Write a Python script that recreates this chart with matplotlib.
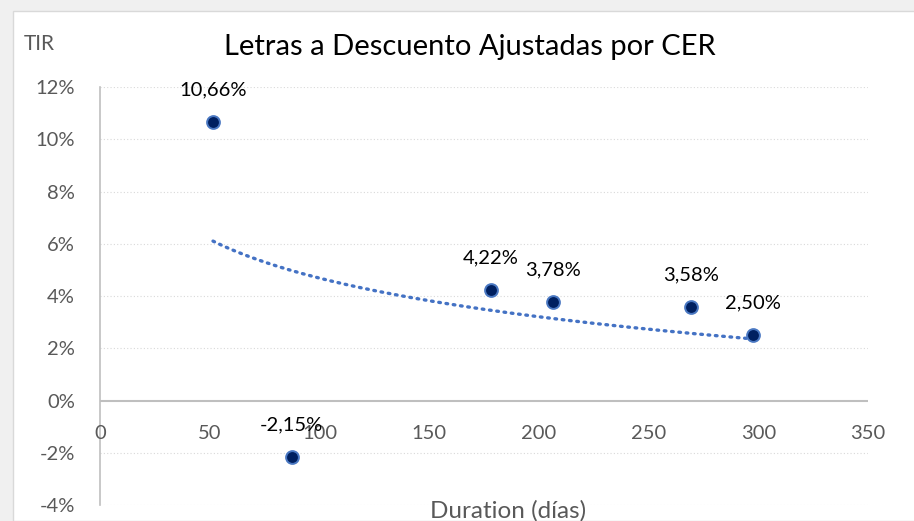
import matplotlib
matplotlib.use("Agg")
import matplotlib.pyplot as plt
from matplotlib.patches import Rectangle
import numpy as np

# data
duration = [51.5, 87.4, 178.2, 206.6, 269.2, 297.5]
tir = [10.66, -2.15, 4.22, 3.78, 3.58, 2.50]
labels = ["10,66%", "-2,15%", "4,22%", "3,78%", "3,58%", "2,50%"]

x_ticks = [0, 50, 100, 150, 200, 250, 300, 350]
y_ticks = [-4, -2, 0, 2, 4, 6, 8, 10, 12]

plt.rcParams['font.family'] = ['Lato', 'DejaVu Sans']

W, H = 914, 521
fig = plt.figure(figsize=(W / 100, H / 100), dpi=100)
fig.patch.set_facecolor("#f0f0f0")
fig.patches.append(Rectangle((13 / W, 0), 1, 1 - 11 / H, transform=fig.transFigure,
                             facecolor="white", edgecolor="#d9d9d9", lw=1, zorder=-5))

ax = fig.add_axes([100 / W, 1 - 505 / H, 768 / W, 418 / H])
ax.set_facecolor("none")
ax.set_xlim(0, 350)
ax.set_ylim(-4, 12)

grey = "#595959"
for s in ["top", "right", "bottom"]:
    ax.spines[s].set_visible(False)
ax.spines["left"].set_color("#bfbfbf")
ax.spines["left"].set_linewidth(1.2)
ax.axhline(0, color="#bfbfbf", lw=1.5, zorder=1)

for yv in y_ticks:
    if yv != 0:
        ax.axhline(yv, color="#d9d9d9", lw=0.8, ls=(0, (1, 2)), zorder=0)

ax.set_yticks(y_ticks)
ax.set_yticklabels([f"{v}%" for v in y_ticks], color=grey, fontsize=14.5)
ax.tick_params(axis="y", length=0, pad=18)
ax.set_xticks([])
for xv in x_ticks:
    ax.annotate(str(xv), (xv, 0), xytext=(0, -24), textcoords="offset points",
                ha="center", va="center", color=grey, fontsize=14.5)

# logarithmic trendline
b, a = np.polyfit(np.log(duration), tir, 1)
xs = np.linspace(min(duration), max(duration), 200)
ax.plot(xs, a + b * np.log(xs), color="#4472c4", lw=2.4, ls=(0, (0.5, 1.7)),
        dash_capstyle="round", zorder=2)

ax.scatter(duration, tir, s=85, color="#002060", edgecolor="#4a78c2", lw=1.4, zorder=3)
for xv, yv, t in zip(duration, tir, labels):
    ax.annotate(t, (xv, yv), xytext=(0, 23), textcoords="offset points",
                ha="center", va="center", fontsize=14.5, color="black", zorder=4)

fig.text(470 / W, 1 - 47 / H, "Letras a Descuento Ajustadas por CER",
         ha="center", va="center", fontsize=21, color="black")
fig.text(24 / W, 1 - 44 / H, "TIR", ha="left", va="center", fontsize=15, color=grey)
fig.text(508 / W, 1 - 511 / H, "Duration (días)", ha="center", va="center",
         fontsize=17.5, color=grey)

fig.savefig("out.png", dpi=100)
